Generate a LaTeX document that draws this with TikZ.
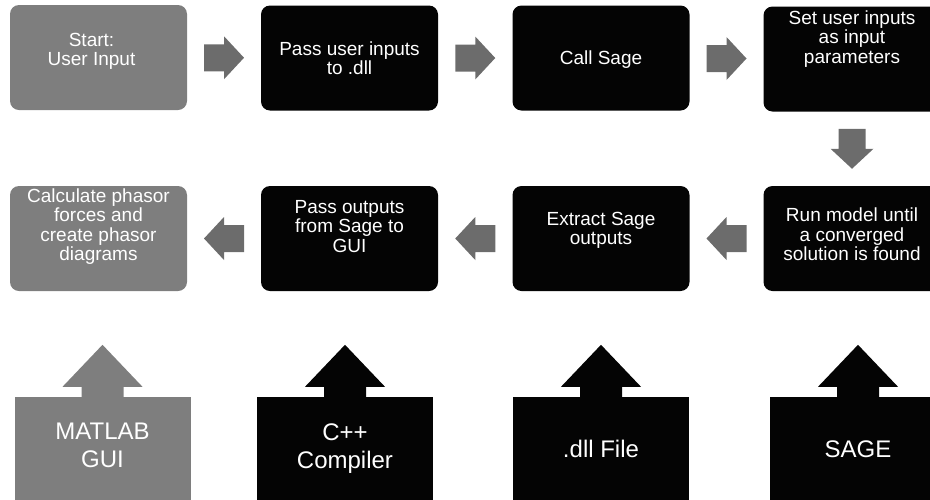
\documentclass[tikz,border=0pt]{standalone}
\usepackage{fontspec}
\setmainfont{Liberation Sans}
\usetikzlibrary{calc}
\definecolor{boxgray}{RGB}{126,126,126}
\definecolor{arrgray}{RGB}{108,108,108}
\definecolor{boxblack}{RGB}{4,4,4}
\tikzset{
  rarrow/.pic={\fill[arrgray] (-20,-13.5) -- (0,-13.5) -- (0,-21.5) -- (20,0) -- (0,21.5) -- (0,13.5) -- (-20,13.5) -- cycle;},
  uparrow/.pic={\fill[pic actions] (-21,4) -- (-21,-10) -- (-40,-10) -- (0,-52) -- (40,-10) -- (21,-10) -- (21,4) -- cycle;}
}
\begin{document}
\begin{tikzpicture}[x=1pt,y=-1pt,
  stepbox/.style={rectangle, rounded corners=9pt, minimum width=177pt, minimum height=105pt, inner sep=0pt},
  basebox/.style={rectangle, minimum width=176pt, minimum height=104pt, inner sep=0pt},
  blk/.style={fill=boxblack},
  gry/.style={fill=boxgray},
  txt/.style={text=white, align=center, font=\fontsize{19}{19.5}\selectfont, inner sep=0pt},
  bigtxt/.style={text=white, align=center, font=\fontsize{24}{28}\selectfont, inner sep=0pt}
]
\useasboundingbox (0,0) rectangle (930,499);
\clip (0,0) rectangle (930,499);

% top row
\node[stepbox, gry] (b1) at (98.5,57.5) {};
\node[stepbox, blk] (b2) at (349.5,58) {};
\node[stepbox, blk] (b3) at (601,58) {};
\node[stepbox, blk] (b4) at (852,59) {};
% middle row
\node[stepbox, blk] (b5) at (852,238.5) {};
\node[stepbox, blk] (b6) at (601,238.5) {};
\node[stepbox, blk] (b7) at (349.5,238.5) {};
\node[stepbox, gry] (b8) at (98.5,238.5) {};

% texts
\node[txt] (t1) at ($(b1.center)+(-7,-6)$) {Start:\\User Input};
\node[txt] (t2) at ($(b2.center)+(0,0)$) {Pass user inputs\\to .dll};
\node[txt] (t3) at ($(b3.center)+(0,2)$) {Call Sage};
\node[txt] (t4) at ($(b4.center)+(0,-20)$) {Set user inputs\\as input\\parameters};
\node[txt] (t5) at ($(b5.center)+(0,-4)$) {Run model until\\a converged\\solution is found};
\node[txt] (t6) at ($(b6.center)+(0,-8)$) {Extract Sage\\outputs};
\node[txt] (t7) at ($(b7.center)+(0,-12)$) {Pass outputs\\from Sage to\\GUI};
\node[txt] (t8) at ($(b8.center)+(0,-12)$) {Calculate phasor\\forces and\\create phasor\\diagrams};

% flow arrows
\pic at ($(b1.east)!0.5!(b2.west)$) {rarrow};
\pic at ($(b2.east)!0.5!(b3.west)$) {rarrow};
\pic at ($(b3.east)!0.5!(b4.west)$) {rarrow};
\pic[rotate=-90] at ($(b4.south)!0.5!(b5.north)$) {rarrow};
\pic[rotate=180] at ($(b5.west)!0.5!(b6.east)$) {rarrow};
\pic[rotate=180] at ($(b6.west)!0.5!(b7.east)$) {rarrow};
\pic[rotate=180] at ($(b7.west)!0.5!(b8.east)$) {rarrow};

% bottom row
\node[basebox, gry] (m1) at (102.5,449) {};
\node[basebox, blk] (m2) at (345,449) {};
\node[basebox, blk] (m3) at (601,449) {};
\node[basebox, blk] (m4) at (858,449) {};
\pic[fill=boxgray] at (m1.north) {uparrow};
\pic[fill=boxblack] at (m2.north) {uparrow};
\pic[fill=boxblack] at (m3.north) {uparrow};
\pic[fill=boxblack] at (m4.north) {uparrow};
\node[bigtxt] (u1) at ($(m1.center)+(0,-4)$) {MATLAB\\GUI};
\node[bigtxt] (u2) at ($(m2.center)+(0,0)$) {C++\\Compiler};
\node[bigtxt] (u3) at ($(m3.center)+(0,0)$) {.dll File};
\node[bigtxt] (u4) at ($(m4.center)+(0,0)$) {SAGE};
\end{tikzpicture}
\end{document}
